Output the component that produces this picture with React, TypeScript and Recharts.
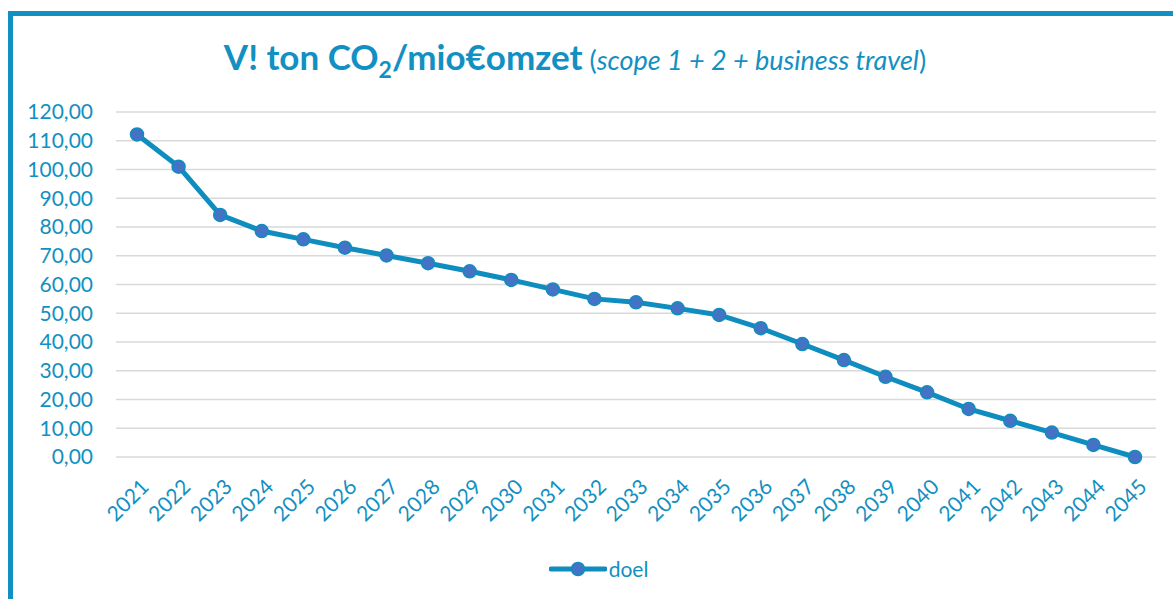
import React from 'react';
import { LineChart, Line, XAxis, YAxis, CartesianGrid, Legend } from 'recharts';

const years = ['2021','2022','2023','2024','2025','2026','2027','2028','2029','2030','2031','2032','2033','2034','2035','2036','2037','2038','2039','2040','2041','2042','2043','2044','2045'];
const doel = [112.2,101.0,84.2,78.6,75.7,72.8,70.1,67.4,64.6,61.6,58.3,55.0,53.8,51.7,49.4,44.8,39.3,33.7,27.9,22.5,16.7,12.6,8.5,4.2,0];
const yTicks = [0,10,20,30,40,50,60,70,80,90,100,110,120];
const seriesName = 'doel';

const data = years.map((y, i) => ({ year: y, doel: doel[i] }));

const TEAL = '#1290c2';
const LINE = '#0f8dbf';
const MARKER = '#4472c4';
const FONT = 'Lato, "Open Sans", sans-serif';

const XTick = (props: any) => {
  const { x, y, payload } = props;
  return (
    <g transform={`translate(${x + 8},${y + 26}) rotate(-45)`}>
      <text x={0} y={0} textAnchor="end" fill={TEAL} fontSize={21} fontFamily={FONT} dy="0.35em">
        {payload.value}
      </text>
    </g>
  );
};

const LegendContent = () => (
  <div style={{ display: 'flex', justifyContent: 'center', alignItems: 'center', fontFamily: FONT, paddingLeft: 24 }}>
    <svg width={58} height={20}>
      <line x1={2} y1={10} x2={56} y2={10} stroke={LINE} strokeWidth={5} strokeLinecap="round" />
      <circle cx={29} cy={10} r={6.5} fill={MARKER} stroke={LINE} strokeWidth={1.5} />
    </svg>
    <span style={{ color: TEAL, fontSize: 21, marginLeft: 2 }}>{seriesName}</span>
  </div>
);

export default function App() {
  return (
    <div style={{ position: 'fixed', left: 0, top: 0, width: 1173, height: 599, overflow: 'hidden', background: '#fff' }}>
      <div style={{ position: 'absolute', left: 8, top: 11, width: 1300, height: 800, border: `5px solid ${TEAL}`, boxSizing: 'border-box' }} />
      <div style={{ position: 'absolute', left: 0, top: 39, width: 1150, textAlign: 'center', color: TEAL, fontFamily: FONT, whiteSpace: 'nowrap', lineHeight: 1 }}>
        <span style={{ fontWeight: 700, fontSize: 35 }}>V! ton CO<sub style={{ fontSize: 23, verticalAlign: -8, lineHeight: 0 }}>2</sub>/mio€omzet</span>
        <span style={{ fontSize: 27 }}> (<i>scope 1 + 2 + business travel</i>)</span>
      </div>
      <div style={{ position: 'absolute', left: 0, top: 0 }}>
        <LineChart width={1173} height={599} data={data} margin={{ top: 112, right: 17, left: 0, bottom: 62 }}>
          <CartesianGrid vertical={false} stroke="#d9d9d9" strokeWidth={1.5} />
          <XAxis dataKey="year" axisLine={false} tickLine={false} tickSize={0} tickMargin={0} height={80} interval={0} padding={{ left: 21, right: 21 }} tick={<XTick />} />
          <YAxis domain={[0, 120]} ticks={yTicks} interval={0} width={116} axisLine={false} tickLine={false} tickSize={0} tickMargin={23}
            tickFormatter={(v: number) => v.toFixed(2).replace('.', ',')}
            tick={{ fill: TEAL, fontSize: 21, fontFamily: FONT }} />
          <Legend layout="horizontal" verticalAlign="middle" align="center" content={<LegendContent />}
            wrapperStyle={{ position: 'absolute', left: 0, top: 556, width: 1173 }} />
          <Line type="linear" dataKey="doel" name={seriesName} stroke={LINE} strokeWidth={5} isAnimationActive={false}
            dot={{ r: 6.5, fill: MARKER, stroke: LINE, strokeWidth: 1.5 }} activeDot={false} />
        </LineChart>
      </div>
    </div>
  );
}
